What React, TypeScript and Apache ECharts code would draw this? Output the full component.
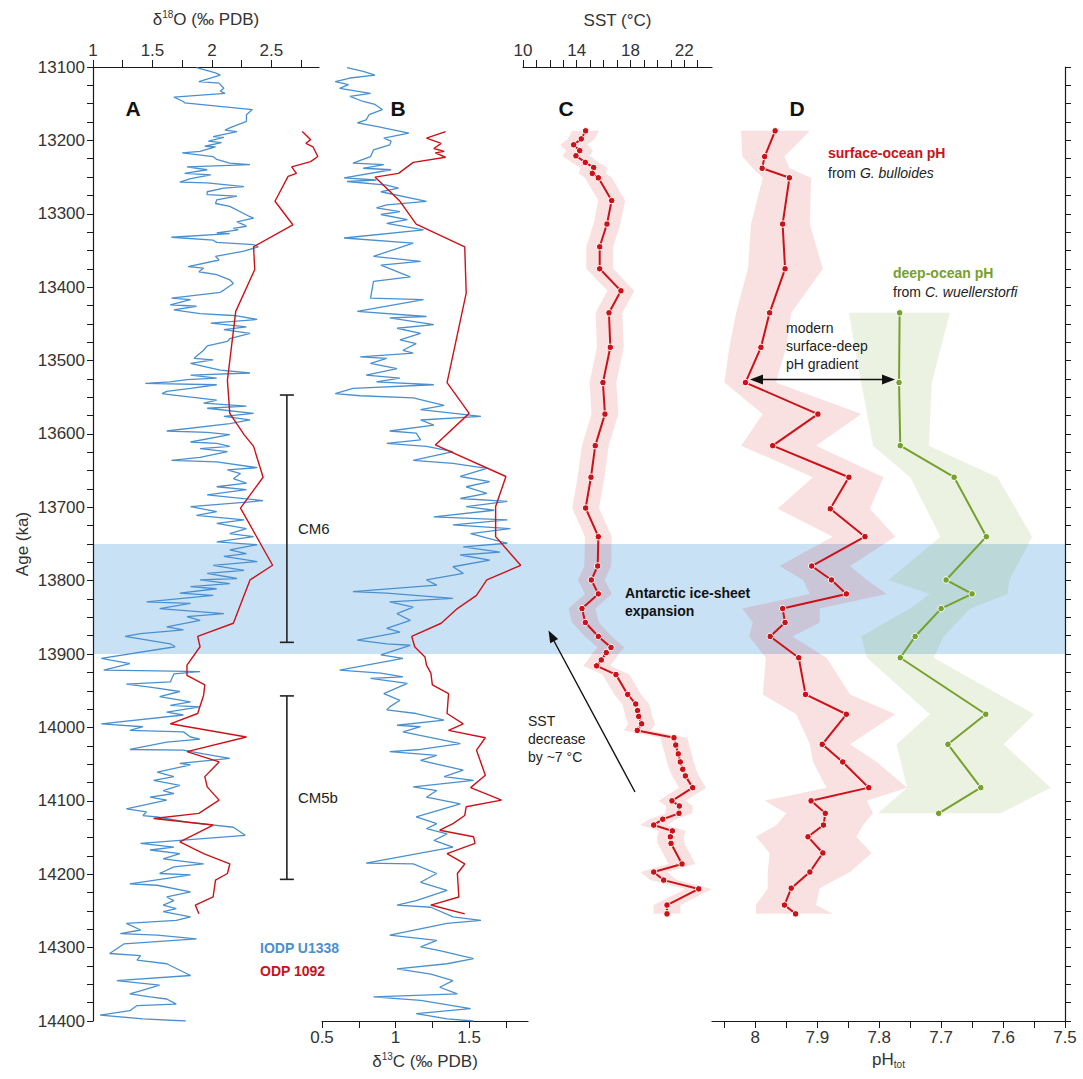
import React, { useEffect, useRef } from "react";
import * as echarts from "echarts";

// ---------------- DATA ----------------
const AGE_MIN = 13100;
const AGE_MAX = 14400;
const ageLabels = [13100, 13200, 13300, 13400, 13500, 13600, 13700, 13800, 13900, 14000, 14100, 14200, 14300, 14400];
const d18OLabels = [1, 1.5, 2, 2.5];
const d13CLabels = [0.5, 1, 1.5];
const sstLabels = [10, 14, 18, 22];
const pHLabels = [8, 7.9, 7.8, 7.7, 7.6, 7.5];

// Antarctic ice-sheet expansion interval (ka)
const ICE_BAND = [13750, 13900];

// carbon-isotope maxima (ka)
const cmNames = ["CM6", "CM5b"];
const cmTop = [13547, 13957];
const cmBottom = [13884, 14207];

// IODP U1338 benthic d18O [age, value]
const u1338_d18O = [
  [13101, 1.87], [13108, 2.03], [13111, 2.07], [13120, 1.89], [13122, 2.06], [13129, 2.1], [13133, 2.07], [13136, 2.11],
  [13141, 1.68], [13147, 1.76], [13149, 1.77], [13158, 2.34], [13165, 2.29], [13174, 2.29], [13183, 2.15], [13186, 2.11],
  [13188, 2.21], [13195, 2.01], [13196, 2.1], [13201, 1.97], [13203, 2.08], [13208, 1.94], [13209, 2.03], [13215, 1.9],
  [13217, 1.75], [13222, 2.01], [13226, 2.04], [13231, 2.15], [13233, 2.32], [13236, 1.79], [13240, 1.96], [13245, 1.77],
  [13247, 1.99], [13252, 1.82], [13257, 1.73], [13258, 1.96], [13263, 2.27], [13265, 2.1], [13270, 1.96], [13274, 1.96],
  [13276, 2.21], [13281, 2.04], [13286, 2.03], [13290, 2.15], [13304, 2.32], [13306, 2.35], [13311, 2.21], [13315, 2.27],
  [13317, 2.29], [13320, 2.18], [13322, 2.22], [13326, 2.04], [13327, 2.15], [13332, 1.66], [13336, 2.01], [13339, 2.04],
  [13342, 2.35], [13345, 2.39], [13351, 2.27], [13358, 2.03], [13363, 2.06], [13372, 1.8], [13374, 1.93], [13379, 1.89],
  [13383, 2.04], [13390, 2.15], [13395, 2.18], [13404, 2.1], [13407, 2.07], [13415, 1.66], [13417, 1.82], [13424, 1.65],
  [13426, 1.87], [13431, 1.68], [13436, 1.9], [13439, 2.21], [13444, 2.38], [13449, 1.99], [13454, 2.29], [13458, 2.1],
  [13463, 2.32], [13470, 2.15], [13474, 2.13], [13480, 1.96], [13486, 1.93], [13490, 1.9], [13497, 1.85], [13499, 2.01],
  [13504, 1.82], [13508, 1.93], [13513, 2.07], [13517, 2.32], [13520, 1.82], [13524, 2.04], [13526, 1.79], [13529, 1.65],
  [13531, 1.44], [13533, 2.04], [13538, 1.82], [13542, 1.62], [13545, 1.58], [13547, 1.68], [13554, 2.04], [13558, 1.93],
  [13562, 2.29], [13565, 1.96], [13572, 2.35], [13576, 2.1], [13581, 2.32], [13586, 2.15], [13596, 1.62], [13598, 1.96],
  [13601, 2.15], [13611, 1.82], [13613, 2.04], [13617, 2.15], [13620, 1.9], [13624, 2.13], [13632, 1.9], [13636, 1.66],
  [13638, 2.04], [13646, 2.38], [13649, 2.13], [13654, 2.24], [13661, 2.18], [13667, 2.29], [13672, 2.04], [13676, 2.29],
  [13683, 1.96], [13691, 2.43], [13699, 1.82], [13706, 2.04], [13711, 1.87], [13717, 2.27], [13722, 2.04], [13729, 2.29],
  [13736, 2.15], [13740, 2.35], [13747, 2.04], [13751, 2.38], [13758, 2.15], [13763, 2.29], [13767, 2.1], [13774, 2.38],
  [13779, 2.01], [13786, 2.27], [13790, 1.96], [13797, 2.21], [13799, 1.9], [13804, 2.15], [13808, 1.82], [13811, 2.04],
  [13817, 1.73], [13820, 2.01], [13829, 1.45], [13831, 1.82], [13838, 1.56], [13845, 2.1], [13849, 1.79], [13854, 1.9],
  [13863, 1.62], [13867, 1.76], [13872, 1.4], [13876, 1.27], [13886, 1.65], [13890, 1.69], [13906, 1.07], [13913, 1.31],
  [13922, 1.09], [13923, 1.54], [13924, 1.9], [13927, 1.68], [13938, 1.65], [13941, 1.28], [13945, 1.48], [13951, 1.73],
  [13958, 1.56], [13965, 1.82], [13970, 1.65], [13972, 1.9], [13979, 1.62], [13983, 1.76], [13995, 1.07], [13999, 1.42],
  [14004, 1.31], [14006, 1.76], [14013, 1.82], [14016, 1.9], [14020, 1.62], [14030, 1.31], [14031, 1.76], [14036, 1.93],
  [14042, 2.15], [14049, 1.73], [14051, 1.82], [14061, 1.54], [14067, 1.68], [14072, 1.51], [14079, 1.73], [14086, 1.59],
  [14090, 1.68], [14095, 1.48], [14099, 1.62], [14111, 1.28], [14115, 1.45], [14120, 1.42], [14122, 1.54], [14129, 1.79],
  [14136, 2.18], [14147, 2.28], [14158, 1.4], [14163, 1.68], [14167, 1.48], [14172, 1.73], [14179, 1.59], [14186, 1.93],
  [14190, 1.68], [14199, 1.56], [14201, 1.82], [14213, 1.31], [14215, 1.54], [14224, 1.82], [14231, 1.62], [14236, 1.68],
  [14242, 1.59], [14247, 1.7], [14251, 1.59], [14258, 1.82], [14263, 1.7], [14267, 1.28], [14276, 1.4], [14281, 1.23],
  [14283, 1.54], [14288, 1.87], [14295, 1.26], [14308, 1.14], [14311, 1.4], [14317, 1.37], [14322, 1.62], [14338, 1.82],
  [14345, 1.2], [14351, 1.56], [14358, 1.42], [14363, 1.31], [14367, 1.48], [14370, 1.62], [14377, 1.7], [14379, 1.37],
  [14386, 1.31], [14392, 1.06], [14397, 1.42], [14400, 1.78],
];

// ODP 1092 d18O [age, value]
const odp1092_d18O = [
  [13188, 2.76], [13199, 2.83], [13204, 2.79], [13209, 2.85], [13222, 2.89], [13229, 2.83], [13236, 2.67], [13245, 2.71],
  [13249, 2.64], [13283, 2.53], [13315, 2.68], [13345, 2.35], [13376, 2.36], [13433, 2.2], [13527, 2.13], [13572, 2.15],
  [13601, 2.27], [13617, 2.35], [13659, 2.43], [13701, 2.24], [13779, 2.51], [13799, 2.32], [13858, 2.18], [13876, 1.88],
  [13890, 1.9], [13915, 1.79], [13929, 1.79], [13942, 1.94], [13956, 1.93], [13981, 1.88], [13995, 1.65], [14013, 2.29],
  [14033, 1.79], [14047, 2.06], [14067, 1.94], [14081, 1.96], [14099, 2.06], [14117, 1.89], [14124, 1.51], [14133, 2.01],
  [14156, 1.73], [14172, 1.93], [14186, 2.15], [14199, 2.13], [14208, 2.03], [14231, 2.01], [14242, 1.86], [14254, 1.89],
];

// IODP U1338 benthic d13C [age, value]
const u1338_d13C = [
  [13101, 0.67], [13106, 0.78], [13111, 0.86], [13115, 0.69], [13120, 0.59], [13124, 0.68], [13129, 0.62], [13136, 0.83],
  [13140, 0.69], [13147, 0.78], [13151, 0.86], [13158, 0.91], [13165, 0.82], [13172, 0.8], [13176, 0.74], [13181, 0.87],
  [13190, 1.09], [13197, 0.92], [13201, 0.97], [13206, 0.96], [13213, 0.85], [13222, 0.83], [13231, 0.71], [13233, 0.92],
  [13238, 0.78], [13240, 0.97], [13251, 0.65], [13254, 0.87], [13256, 0.67], [13261, 0.94], [13265, 1.02], [13270, 0.9],
  [13283, 1.21], [13288, 0.94], [13292, 0.87], [13297, 1.03], [13301, 0.9], [13308, 1.08], [13313, 0.94], [13322, 1.19],
  [13333, 0.65], [13340, 1.12], [13358, 0.85], [13365, 1.17], [13370, 0.9], [13386, 1.1], [13392, 0.85], [13415, 0.83],
  [13417, 1.19], [13433, 0.74], [13440, 1.21], [13442, 0.96], [13451, 1.26], [13456, 1.01], [13463, 1.17], [13472, 1.03],
  [13477, 1.14], [13486, 1.05], [13490, 1.12], [13495, 0.76], [13497, 0.94], [13504, 0.83], [13511, 1.01], [13520, 0.8],
  [13524, 1.03], [13529, 0.87], [13533, 1.26], [13538, 0.71], [13545, 0.59], [13548, 0.76], [13551, 1.12], [13561, 1.33],
  [13567, 1.17], [13576, 1.58], [13581, 1.17], [13588, 1.26], [13596, 0.96], [13599, 1.14], [13608, 1.17], [13613, 0.94],
  [13617, 1.21], [13624, 1.39], [13636, 1.12], [13640, 1.39], [13647, 1.62], [13658, 1.44], [13665, 1.64], [13672, 1.48],
  [13681, 1.62], [13688, 1.44], [13692, 1.76], [13699, 1.48], [13704, 1.67], [13713, 1.26], [13717, 1.76], [13724, 1.39],
  [13729, 1.78], [13736, 1.51], [13749, 1.76], [13754, 1.46], [13761, 1.71], [13765, 1.44], [13772, 1.64], [13781, 1.39],
  [13790, 1.46], [13799, 1.21], [13806, 1.28], [13815, 0.71], [13817, 0.94], [13824, 1.39], [13829, 0.96], [13836, 1.12],
  [13845, 1.01], [13854, 1.1], [13865, 0.94], [13870, 1.03], [13881, 0.74], [13886, 0.94], [13888, 1.1], [13901, 0.9],
  [13906, 1.05], [13922, 0.62], [13926, 0.9], [13931, 1.05], [13933, 0.83], [13940, 1.08], [13954, 0.92], [13963, 1.03],
  [13972, 0.96], [13976, 0.94], [13981, 1.14], [13990, 1.33], [13997, 1.01], [13999, 1.17], [14006, 1.05], [14022, 1.44],
  [14030, 1.17], [14033, 0.96], [14038, 1.28], [14045, 1.17], [14058, 1.46], [14067, 1.33], [14072, 1.53], [14081, 1.12],
  [14086, 1.28], [14095, 1.21], [14104, 1.44], [14122, 1.14], [14131, 1.28], [14138, 1.21], [14145, 1.35], [14154, 1.26],
  [14163, 1.39], [14185, 0.8], [14186, 1.12], [14199, 1.28], [14211, 1.17], [14222, 1.35], [14236, 1.14], [14242, 1.01],
  [14245, 1.24], [14258, 1.39], [14263, 1.58], [14267, 1.35], [14283, 0.96], [14290, 1.28], [14299, 1.17], [14304, 1.3],
  [14315, 1.53], [14322, 1.35], [14329, 1.01], [14336, 1.24], [14345, 1.39], [14354, 1.3], [14363, 1.42], [14367, 0.85],
  [14372, 1.17], [14383, 1.51], [14390, 1.14], [14397, 1.35], [14400, 1.53],
];

// ODP 1092 d13C [age, value]
const odp1092_d13C = [
  [13188, 1.34], [13197, 1.21], [13204, 1.31], [13211, 1.26], [13215, 1.33], [13217, 1.27], [13223, 1.34], [13230, 1.12],
  [13245, 1.02], [13250, 0.86], [13283, 1.03], [13314, 1.14], [13345, 1.47], [13408, 1.48], [13530, 1.35], [13572, 1.5],
  [13615, 1.27], [13658, 1.75], [13699, 1.68], [13740, 1.68], [13779, 1.85], [13799, 1.62], [13820, 1.55], [13838, 1.42],
  [13858, 1.31], [13876, 1.11], [13890, 1.13], [13904, 1.2], [13915, 1.21], [13926, 1.24], [13942, 1.25], [13954, 1.36],
  [13981, 1.35], [13995, 1.46], [14004, 1.36], [14014, 1.61], [14031, 1.55], [14065, 1.61], [14082, 1.51], [14099, 1.72],
  [14108, 1.48], [14120, 1.47], [14131, 1.39], [14140, 1.3], [14149, 1.53], [14158, 1.54], [14172, 1.35], [14186, 1.47],
  [14199, 1.42], [14231, 1.43], [14242, 1.24], [14254, 1.47],
];

// SST (deg C)
const sstAge = [13187, 13198, 13206, 13214, 13221, 13230, 13237, 13245, 13251, 13282, 13314, 13345, 13375, 13405, 13435,
  13482, 13530, 13573, 13616, 13659, 13701, 13740, 13780, 13799, 13818, 13838, 13857, 13876, 13891, 13898, 13908, 13916,
  13928, 13955, 13968, 13977, 13985, 13995, 14004, 14014, 14024, 14036, 14047, 14057, 14066, 14082, 14100, 14107, 14117,
  14125, 14133, 14141, 14149, 14158, 14186, 14197, 14208, 14220, 14242, 14254];
const sst = [14.66, 14.34, 13.77, 14.22, 13.94, 14.64, 15.26, 15.16, 15.61, 16.6, 16.25, 15.71, 15.71, 17.29, 16.4,
  16.5, 15.95, 16.1, 15.38, 15.06, 14.66, 15.61, 15.56, 15.09, 15.61, 14.39, 14.64, 15.61, 16.55, 16.2, 15.83, 15.48,
  16.92, 17.79, 18.39, 18.53, 18.61, 18.83, 18.51, 21.24, 21.37, 21.56, 21.71, 21.89, 22.09, 22.63, 21.09, 21.64, 21.61,
  20.4, 19.73, 21.12, 20.97, 21.02, 21.84, 19.73, 20.47, 23.08, 20.72, 20.72];
const SST_UNC = 1.0;

// surface-ocean pH (G. bulloides)
const phsAge = [13187, 13222, 13238, 13251, 13314, 13375, 13435, 13482, 13530, 13573, 13616, 13659, 13702, 13740, 13780,
  13799, 13818, 13838, 13857, 13876, 13905, 13955, 13982, 14023, 14047, 14082, 14100, 14117, 14133, 14149, 14171, 14197,
  14219, 14242, 14254];
const phs = [7.968, 7.985, 7.989, 7.945, 7.956, 7.952, 7.977, 7.991, 8.016, 7.899, 7.972, 7.849, 7.879, 7.823, 7.909,
  7.877, 7.853, 7.956, 7.952, 7.976, 7.93, 7.919, 7.853, 7.892, 7.859, 7.817, 7.91, 7.887, 7.89, 7.915, 7.891, 7.912,
  7.942, 7.953, 7.935];
const phsHi = [8.023, 8.021, 8.004, 7.988, 8.007, 8.012, 8.031, 8.042, 8.05, 7.988, 8.023, 7.907, 7.964, 7.875, 7.961,
  7.923, 7.912, 8.021, 8.004, 8.01, 7.983, 7.988, 7.934, 7.912, 7.907, 7.885, 7.985, 7.95, 7.966, 7.999, 7.977, 7.98,
  7.98, 7.999, 7.999];
const phsLo = [7.912, 7.953, 7.945, 7.91, 7.912, 7.891, 7.942, 7.95, 7.967, 7.829, 7.902, 7.793, 7.815, 7.774, 7.847,
  7.82, 7.788, 7.896, 7.896, 7.94, 7.885, 7.847, 7.774, 7.847, 7.804, 7.755, 7.82, 7.81, 7.826, 7.837, 7.812, 7.847,
  7.896, 7.902, 7.875];

// deep-ocean pH (C. wuellerstorfi)
const phdAge = [13435, 13530, 13616, 13659, 13740, 13799, 13818, 13838, 13876, 13905, 13982, 14023, 14082, 14117];
const phd = [7.767, 7.768, 7.766, 7.679, 7.627, 7.692, 7.65, 7.7, 7.742, 7.766, 7.628, 7.689, 7.636, 7.704];
const phdHi = [7.849, 7.829, 7.81, 7.75, 7.701, 7.785, 7.718, 7.75, 7.829, 7.82, 7.718, 7.772, 7.755, 7.802];
const phdLo = [7.686, 7.715, 7.72, 7.609, 7.553, 7.59, 7.593, 7.653, 7.696, 7.712, 7.55, 7.599, 7.523, 7.604];

// ---------------- STYLE ----------------
const RED = "#cc1218";
const BLUE = "#4a90cf";
const GREEN = "#76a12b";
const BAND_BLUE = "#c8e1f5";
const PINK = "rgba(214,20,20,0.13)";
const OLIVE = "rgba(120,160,40,0.14)";
const AX = "#1a1a1a";
const TXT = "#333";
const FONT = "'Liberation Sans Narrow', 'Arial Narrow', 'Liberation Sans', Arial, sans-serif";
const FONT_R = "'Liberation Sans', Arial, sans-serif";

const range = (a: number, b: number, s: number) => {
  const out: number[] = [];
  for (let v = a; v <= b + 1e-9; v += s) out.push(Math.round(v * 1000) / 1000);
  return out;
};

const ageTicks = range(AGE_MIN, AGE_MAX, 25);
const plain = (v: number) => String(v);

function xAxisBase(gridIndex: number, position: string, min: number, max: number, ticks: number[], labels: number[], extra: any = {}) {
  return {
    type: "value",
    gridIndex,
    position,
    min,
    max,
    splitLine: { show: false },
    axisLine: { show: true, onZero: false, lineStyle: { color: AX, width: 1.2 } },
    axisTick: { show: true, length: 7, customValues: ticks, lineStyle: { color: AX, width: 1 } },
    axisLabel: { show: true, customValues: labels, formatter: plain, color: TXT, fontSize: 17, fontFamily: FONT, margin: 8 },
    nameLocation: "middle",
    ...extra,
  };
}

function yAxisBase(gridIndex: number, extra: any = {}) {
  return {
    type: "value",
    gridIndex,
    inverse: true,
    min: AGE_MIN,
    max: AGE_MAX,
    splitLine: { show: false },
    axisLine: { show: false, onZero: false },
    axisTick: { show: false },
    axisLabel: { show: false },
    ...extra,
  };
}

function iceBand(i: number, xv: number, extraW = 0) {
  return {
    type: "custom",
    xAxisIndex: i,
    yAxisIndex: i,
    z: 0,
    silent: true,
    data: [[xv, ICE_BAND[0], ICE_BAND[1]]],
    renderItem: (params: any, api: any) => {
      const cs = params.coordSys;
      const y1 = api.coord([api.value(0), api.value(1)])[1];
      const y2 = api.coord([api.value(0), api.value(2)])[1];
      return { type: "rect", shape: { x: cs.x, y: y1, width: cs.width + extraW, height: y2 - y1 }, style: { fill: BAND_BLUE } };
    },
  };
}

function envelope(i: number, ages: number[], lo: number[], hi: number[], fill: string) {
  return {
    type: "custom",
    xAxisIndex: i,
    yAxisIndex: i,
    z: 1,
    silent: true,
    data: [[lo[0], ages[0]]],
    renderItem: (params: any, api: any) => {
      const pts: number[][] = [];
      for (let k = 0; k < ages.length; k++) pts.push(api.coord([lo[k], ages[k]]));
      for (let k = ages.length - 1; k >= 0; k--) pts.push(api.coord([hi[k], ages[k]]));
      return { type: "polygon", shape: { points: pts }, style: { fill } };
    },
  };
}

function lineSeries(i: number, data: number[][], color: string, width: number, z: number, symbols = false) {
  return {
    type: "line",
    xAxisIndex: i,
    yAxisIndex: i,
    data,
    z,
    silent: true,
    showSymbol: symbols,
    symbol: "circle",
    symbolSize: 6.5,
    itemStyle: { color, borderColor: "#ffffff", borderWidth: 1 },
    lineStyle: { color, width },
    emphasis: { disabled: true },
  };
}

const BRACKET_X = 2.63;

function brackets() {
  return {
    type: "custom",
    xAxisIndex: 0,
    yAxisIndex: 0,
    z: 5,
    silent: true,
    data: cmNames.map((_, k) => [BRACKET_X, cmTop[k], cmBottom[k]]),
    renderItem: (params: any, api: any) => {
      const p1 = api.coord([api.value(0), api.value(1)]);
      const p2 = api.coord([api.value(0), api.value(2)]);
      const x = p1[0];
      const st = { stroke: "#222", lineWidth: 1.6 };
      return {
        type: "group",
        children: [
          { type: "line", shape: { x1: x, y1: p1[1], x2: x, y2: p2[1] }, style: st },
          { type: "line", shape: { x1: x - 7, y1: p1[1], x2: x + 7, y2: p1[1] }, style: st },
          { type: "line", shape: { x1: x - 7, y1: p2[1], x2: x + 7, y2: p2[1] }, style: st },
          {
            type: "text",
            x: x + 11,
            y: (p1[1] + p2[1]) / 2 + 10,
            style: { text: cmNames[params.dataIndex], fill: "#222", font: `15px ${FONT_R}`, verticalAlign: "middle", align: "left" },
          },
        ],
      };
    },
  };
}

const pair = (ages: number[], vals: number[]) => ages.map((a, k) => [vals[k], a]);
const swap = (arr: number[][]) => arr.map((d) => [d[1], d[0]]);

function txt(x: number, y: number, text: string, font: string, fill: string, align = "left", rich?: any) {
  const style: any = { text, font, fill, align, verticalAlign: "middle" };
  if (rich) style.rich = rich;
  return { type: "text", x, y, z: 100, style };
}

function arrowHead(tipX: number, tipY: number, fromX: number, fromY: number, len = 12, half = 4.5) {
  const dx = tipX - fromX;
  const dy = tipY - fromY;
  const L = Math.sqrt(dx * dx + dy * dy);
  const ux = dx / L, uy = dy / L;
  const bx = tipX - ux * len, by = tipY - uy * len;
  const nx = -uy, ny = ux;
  return {
    type: "polygon",
    z: 100,
    shape: { points: [[tipX, tipY], [bx + nx * half, by + ny * half], [bx - nx * half, by - ny * half]] },
    style: { fill: "#111" },
  };
}

function buildOption() {
  const sstLo = sst.map((v) => v - SST_UNC);
  const sstHi = sst.map((v) => v + SST_UNC);
  const italicRich = (color: string) => ({
    n: { font: `14px ${FONT_R}`, fill: color, color },
    i: { font: `italic 14px ${FONT_R}`, fill: color, color },
  });

  return {
    animation: false,
    backgroundColor: "#ffffff",
    grid: [
      { left: 93, top: 67, width: 226, height: 954 },
      { left: 322, top: 67, width: 206, height: 954 },
      { left: 523, top: 67, width: 189, height: 954 },
      { left: 712, top: 67, width: 353, height: 954 },
    ],
    xAxis: [
      xAxisBase(0, "top", 1, 2.9, range(1, 2.75, 0.25), d18OLabels, {
        name: "{n|δ}{s|18}{n|O (‰ PDB)}",
        nameGap: 38,
        nameTextStyle: {
          rich: {
            n: { fontSize: 17, fontFamily: FONT_R, color: TXT, lineHeight: 20 },
            s: { fontSize: 10, fontFamily: FONT_R, color: TXT, lineHeight: 20, verticalAlign: "top", padding: [0, 0, 8, 0] },
          },
        },
      }),
      xAxisBase(1, "bottom", 0.5, 1.9, range(0.5, 1.75, 0.25), d13CLabels, {
        name: "{n|δ}{s|13}{n|C (‰ PDB)}",
        nameGap: 30,
        nameTextStyle: {
          rich: {
            n: { fontSize: 17, fontFamily: FONT_R, color: TXT, lineHeight: 20 },
            s: { fontSize: 10, fontFamily: FONT_R, color: TXT, lineHeight: 20, verticalAlign: "top", padding: [0, 0, 8, 0] },
          },
        },
      }),
      xAxisBase(2, "top", 10, 24.07, range(10, 23, 1), sstLabels, {
        name: "SST (°C)",
        nameGap: 38,
        nameTextStyle: { fontSize: 17, fontFamily: FONT_R, color: TXT },
      }),
      xAxisBase(3, "bottom", 7.5, 8.07, range(7.5, 8.05, 0.05), pHLabels, {
        inverse: true,
        name: "{n|pH}{b|tot}",
        nameGap: 28,
        nameTextStyle: {
          rich: {
            n: { fontSize: 17, fontFamily: FONT_R, color: TXT, lineHeight: 20 },
            b: { fontSize: 10, fontFamily: FONT_R, color: TXT, lineHeight: 20, verticalAlign: "bottom", padding: [8, 0, 0, 0] },
          },
        },
      }),
    ],
    yAxis: [
      yAxisBase(0, {
        position: "left",
        axisLine: { show: true, onZero: false, lineStyle: { color: AX, width: 1.2 } },
        axisTick: { show: true, length: 6, customValues: ageTicks, lineStyle: { color: AX } },
        axisLabel: { show: true, customValues: ageLabels, formatter: plain, color: TXT, fontSize: 17, fontFamily: FONT, margin: 8 },
        name: "Age (ka)",
        nameLocation: "middle",
        nameGap: 62,
        nameTextStyle: { fontSize: 17, fontFamily: FONT_R, color: TXT },
      }),
      yAxisBase(1),
      yAxisBase(2),
      yAxisBase(3, {
        position: "right",
        axisLine: { show: true, onZero: false, lineStyle: { color: AX, width: 1.2 } },
        axisTick: { show: true, length: 6, customValues: ageTicks, lineStyle: { color: AX } },
      }),
    ],
    series: [
      iceBand(0, 1, 4),
      iceBand(1, 0.5),
      iceBand(2, 10),
      iceBand(3, 7.5),
      lineSeries(0, swap(u1338_d18O), BLUE, 1.3, 3),
      lineSeries(0, swap(odp1092_d18O), RED, 1.4, 4),
      brackets(),
      lineSeries(1, swap(u1338_d13C), BLUE, 1.3, 3),
      lineSeries(1, swap(odp1092_d13C), RED, 1.4, 4),
      envelope(2, sstAge, sstLo, sstHi, PINK),
      lineSeries(2, pair(sstAge, sst), RED, 2, 4, true),
      envelope(3, phsAge, phsLo, phsHi, PINK),
      envelope(3, phdAge, phdLo, phdHi, OLIVE),
      lineSeries(3, pair(phsAge, phs), RED, 2, 4, true),
      lineSeries(3, pair(phdAge, phd), GREEN, 2, 4, true),
    ],
    graphic: [
      txt(133, 108, "A", `bold 21px ${FONT_R}`, "#111", "center"),
      txt(398, 108, "B", `bold 21px ${FONT_R}`, "#111", "center"),
      txt(566, 108, "C", `bold 21px ${FONT_R}`, "#111", "center"),
      txt(797, 108, "D", `bold 21px ${FONT_R}`, "#111", "center"),
      txt(260, 948, "IODP U1338", `bold 14px ${FONT_R}`, BLUE),
      txt(260, 971, "ODP 1092", `bold 14px ${FONT_R}`, RED),
      txt(625, 593, "Antarctic ice-sheet", `bold 14px ${FONT_R}`, "#111"),
      txt(625, 611, "expansion", `bold 14px ${FONT_R}`, "#111"),
      txt(528, 721, "SST", `14px ${FONT_R}`, "#222"),
      txt(528, 739, "decrease", `14px ${FONT_R}`, "#222"),
      txt(528, 757, "by ~7 °C", `14px ${FONT_R}`, "#222"),
      { type: "line", z: 100, shape: { x1: 635, y1: 792, x2: 554, y2: 641 }, style: { stroke: "#111", lineWidth: 1.4 } },
      arrowHead(548.5, 630.5, 635, 792),
      txt(786, 328, "modern", `14px ${FONT_R}`, "#222"),
      txt(786, 346, "surface-deep", `14px ${FONT_R}`, "#222"),
      txt(786, 364, "pH gradient", `14px ${FONT_R}`, "#222"),
      { type: "line", z: 100, shape: { x1: 760, y1: 379.5, x2: 885, y2: 379.5 }, style: { stroke: "#111", lineWidth: 1.6 } },
      arrowHead(750, 379.5, 885, 379.5, 13, 5),
      arrowHead(895, 379.5, 760, 379.5, 13, 5),
      txt(828, 153, "surface-ocean pH", `bold 14px ${FONT_R}`, RED),
      txt(828, 173, "{n|from }{i|G. bulloides}", `14px ${FONT_R}`, "#222", "left", italicRich("#222")),
      txt(893, 273, "deep-ocean pH", `bold 14px ${FONT_R}`, GREEN),
      txt(893, 292, "{n|from }{i|C. wuellerstorfi}", `14px ${FONT_R}`, "#222", "left", italicRich("#222")),
    ],
  };
}

export default function App() {
  const ref = useRef<HTMLDivElement>(null);
  useEffect(() => {
    if (!ref.current) return;
    const chart = echarts.init(ref.current, undefined, { renderer: "svg" });
    chart.setOption(buildOption() as any);
    return () => chart.dispose();
  }, []);
  return (
    <div
      ref={ref}
      style={{ position: "fixed", left: 0, top: 0, width: 1083, height: 1079, background: "#fff" }}
    />
  );
}
